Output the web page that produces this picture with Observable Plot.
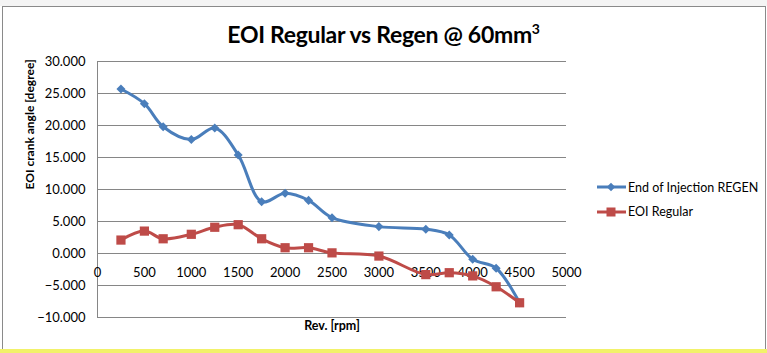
<!DOCTYPE html>
<html>
<head>
<meta charset="utf-8">
<script src="https://cdn.jsdelivr.net/npm/d3@7"></script>
<script src="https://cdn.jsdelivr.net/npm/@observablehq/plot@0.6"></script>
<style>
  html, body { margin: 0; padding: 0; background: #ffffff; }
  #sheet { position: relative; width: 767px; height: 353px; overflow: hidden; background: #ffffff; font-family: Lato, "Open Sans", sans-serif; }
  #topstrip { position: absolute; left: 0; top: 0; width: 767px; height: 6px; background: #f4f4f4; }
  #bottomstrip { position: absolute; left: 0; top: 349px; width: 767px; height: 4px; background: #f2f26a; }
  #frame { position: absolute; left: 2px; top: 6px; width: 762px; height: 342px; border: 1px solid #8a8a8a; background: #ffffff; }
  #chart { position: absolute; left: 0; top: 0; }
  #title { position: absolute; left: 0; width: 767px; top: 20px; text-align: center; font-weight: bold; font-size: 23px; color: #000; font-family: Lato, sans-serif; letter-spacing: -0.3px; }
  #title sup { font-size: 14px; vertical-align: 9px; }
  #legend { position: absolute; left: 597px; top: 175px; font-size: 12.5px; color: #000; }
  .item { display: flex; align-items: center; height: 24.5px; }
  .item svg { margin-right: 2px; }
</style>
</head>
<body>
<div id="sheet">
  <div id="topstrip"></div>
  <div id="frame"></div>
  <div id="bottomstrip"></div>
  <div id="chart"></div>
  <div id="title">EOI Regular vs Regen @ 60mm<sup>3</sup></div>
  <div id="legend"></div>
</div>
<script>
const rpm = [250, 500, 700, 1000, 1250, 1500, 1750, 2000, 2250, 2500, 3000, 3500, 3750, 4000, 4250, 4500];
const regen = [25.7, 23.4, 19.8, 17.8, 19.6, 15.4, 8.1, 9.4, 8.3, 5.6, 4.2, 3.8, 2.9, -0.9, -2.3, -7.7];
const regular = [2.1, 3.5, 2.3, 3.0, 4.1, 4.5, 2.3, 0.9, 0.9, 0.1, -0.4, -3.3, -3.0, -3.5, -5.2, -7.7];
const seriesNames = ["End of Injection REGEN", "EOI Regular"];
const seriesColors = ["#4A7EBB", "#BE4B48"];
const yTicks = [-10, -5, 0, 5, 10, 15, 20, 25, 30];
const xTicks = [0, 500, 1000, 1500, 2000, 2500, 3000, 3500, 4000, 4500, 5000];

const regenData = rpm.map((x, i) => ({x, y: regen[i]}));
const regularData = rpm.map((x, i) => ({x, y: regular[i]}));

const chart = Plot.plot({
  width: 767,
  height: 353,
  marginLeft: 97,
  marginRight: 201,
  marginTop: 61,
  marginBottom: 36,
  style: {background: "transparent", fontFamily: "Lato, sans-serif", fontSize: "13px", color: "#000"},
  x: {domain: [0, 5000]},
  y: {domain: [-10, 30]},
  marks: [
    Plot.ruleY(yTicks, {stroke: "#868686", strokeWidth: 1}),
    Plot.ruleX([0], {stroke: "#868686", strokeWidth: 1}),
    Plot.axisY({ticks: yTicks, tickFormat: d3.format(".3f"), tickSize: 0, tickPadding: 12, label: null}),
    Plot.axisX({ticks: [], label: null, tickSize: 0}),
    Plot.text(xTicks, {x: d => d, y: 0, dy: 19, text: d => String(d), fill: "#000"}),
    Plot.text(["EOI crank angle [degree]"], {frameAnchor: "left", dx: -67, rotate: -90, fontWeight: "bold", fontSize: 12, fill: "#000"}),
    Plot.text(["Rev. [rpm]"], {frameAnchor: "bottom", dy: 12, fontWeight: "bold", fontSize: 12.5, fill: "#000"}),
    Plot.line(regenData, {x: "x", y: "y", stroke: seriesColors[0], strokeWidth: 3, curve: "catmull-rom"}),
    Plot.dot(regenData, {x: "x", y: "y", symbol: "square", rotate: 45, r: 3.6, fill: seriesColors[0], stroke: "none"}),
    Plot.line(regularData, {x: "x", y: "y", stroke: seriesColors[1], strokeWidth: 3, curve: "catmull-rom"}),
    Plot.dot(regularData, {x: "x", y: "y", symbol: "square", r: 5.2, fill: seriesColors[1], stroke: "none"})
  ]
});
document.getElementById("chart").appendChild(chart);

const legend = document.getElementById("legend");
seriesNames.forEach((name, i) => {
  const item = document.createElement("div");
  item.className = "item";
  const marker = i === 0
    ? `<rect x="11" y="4" width="6" height="6" transform="rotate(45 14 7)" fill="${seriesColors[i]}"/>`
    : `<rect x="9.5" y="2.5" width="9" height="9" fill="${seriesColors[i]}"/>`;
  item.innerHTML = `<svg width="29" height="14"><line x1="0" x2="29" y1="7" y2="7" stroke="${seriesColors[i]}" stroke-width="3"/>${marker}</svg><span>${name}</span>`;
  legend.appendChild(item);
});
</script>
</body>
</html>
